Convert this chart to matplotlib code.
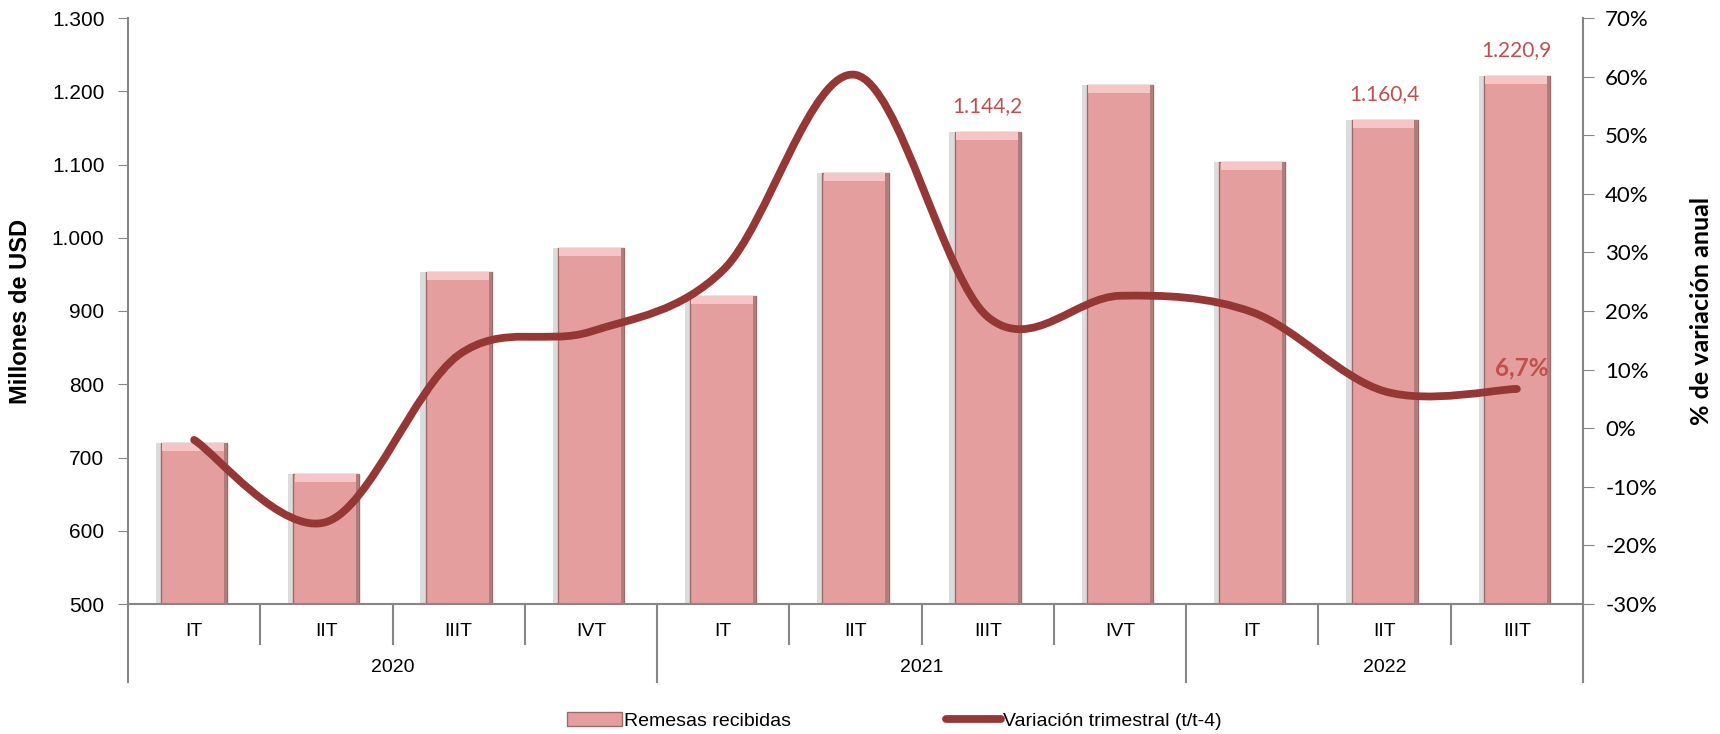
import matplotlib
matplotlib.use("Agg")
import matplotlib.pyplot as plt
import matplotlib.font_manager as fm
from matplotlib.path import Path
from matplotlib.patches import PathPatch, Patch
from matplotlib.lines import Line2D
from matplotlib.ticker import FuncFormatter
import matplotlib.transforms as mtransforms

# %%
# datos
years = ["2020", "2021", "2022"]
quarters = ["IT", "IIT", "IIIT", "IVT", "IT", "IIT", "IIIT", "IVT", "IT", "IIT", "IIIT"]
remesas = [720, 677, 953, 986, 921, 1088, 1144.2, 1208, 1103, 1160.4, 1220.9]
variacion = [-2.0, -16.0, 12.5, 16.5, 27.0, 60.3, 19.0, 22.6, 19.8, 6.3, 6.7]
labeled_bars = {6: "1.144,2", 9: "1.160,4", 10: "1.220,9"}
last_label = "6,7%"

names = {f.name for f in fm.fontManager.ttflist}
narrow = "Liberation Sans Narrow" if "Liberation Sans Narrow" in names else "Liberation Sans"
calibri = "Lato"

AXIS_C = "#868686"
BAR_C = "#E59E9E"
LINE_C = "#953735"
LABEL_C = "#C0504D"


def smooth_path(xs, ys):
    # bezier tipo Excel (catmull-rom) entre los puntos
    n = len(xs)
    verts = [(xs[0], ys[0])]
    codes = [Path.MOVETO]
    for i in range(n - 1):
        x0, y0 = (xs[i - 1], ys[i - 1]) if i > 0 else (xs[i], ys[i])
        x3, y3 = (xs[i + 2], ys[i + 2]) if i + 2 < n else (xs[i + 1], ys[i + 1])
        c1 = (xs[i] + (xs[i + 1] - x0) / 6, ys[i] + (ys[i + 1] - y0) / 6)
        c2 = (xs[i + 1] - (x3 - xs[i]) / 6, ys[i + 1] - (y3 - ys[i]) / 6)
        verts += [c1, c2, (xs[i + 1], ys[i + 1])]
        codes += [Path.CURVE4] * 3
    return Path(verts, codes)


# %%
fig = plt.figure(figsize=(17.2, 7.34), dpi=100)
ax = fig.add_axes([128 / 1720, 1 - 604 / 734, (1583 - 128) / 1720, (604 - 18) / 734])
ax2 = ax.twinx()

x = list(range(len(quarters)))
w = 0.5

# sombra, barra y bisel superior
ax.bar([i - 0.02 for i in x], remesas, width=w + 0.04, color="#DCDCDC", zorder=1)
ax.bar(x, remesas, width=w, color=BAR_C, edgecolor="#9B6B6B", linewidth=1.0, zorder=2)
ax.bar(x, [11] * len(x), bottom=[v - 11 for v in remesas], width=w - 0.02,
       color="#F4C6C6", linewidth=0, zorder=3)
ax.bar([i + w / 2 - 0.012 for i in x], remesas, width=0.024, color="#B07D7D",
       linewidth=0, zorder=3)

for i, txt in labeled_bars.items():
    ax.annotate(txt, (i, remesas[i]), xytext=(0, 26), textcoords="offset pixels",
                ha="center", va="center", color=LABEL_C, fontsize=15, family=calibri)

ax.set_xlim(-0.5, len(x) - 0.5)
ax.set_ylim(500, 1300)
ax.set_yticks(range(500, 1301, 100))
ax.yaxis.set_major_formatter(FuncFormatter(lambda v, p: f"{v:,.0f}".replace(",", ".")))
ax.set_xticks([])
ax.tick_params(axis="y", direction="out", length=7, color=AXIS_C, labelsize=15, pad=10)
for lab in ax.get_yticklabels():
    lab.set_family("Liberation Sans")
ax.set_ylabel("Millones de USD", fontsize=17, fontweight="bold", family=narrow, labelpad=14)

for s in ["top", "right"]:
    ax.spines[s].set_visible(False)
for s in ["left", "bottom"]:
    ax.spines[s].set_color(AXIS_C)
    ax.spines[s].set_linewidth(1.5)

# linea suavizada
ax2.add_patch(PathPatch(smooth_path(x, variacion), facecolor="none", edgecolor=LINE_C,
                        linewidth=5.6, capstyle="round", joinstyle="round", zorder=5))
ax2.annotate(last_label, (x[-1], variacion[-1]), xytext=(5, 21), textcoords="offset pixels",
             ha="center", va="center", color=LABEL_C, fontsize=17.5, fontweight="bold",
             family=calibri)
ax2.set_ylim(-30, 70)
ax2.set_yticks(range(-30, 71, 10))
ax2.yaxis.set_major_formatter(FuncFormatter(lambda v, p: f"{v:.0f}%"))
ax2.tick_params(axis="y", direction="out", length=8, color=AXIS_C, labelsize=16, pad=8)
for lab in ax2.get_yticklabels():
    lab.set_family(calibri)
ax2.set_ylabel("% de variación anual", fontsize=18, fontweight="bold", family=calibri,
               labelpad=24)
for s in ["top", "left", "bottom"]:
    ax2.spines[s].set_visible(False)
ax2.spines["right"].set_color(AXIS_C)
ax2.spines["right"].set_linewidth(1.5)

# eje de categorias en dos niveles
trans = mtransforms.blended_transform_factory(ax.transData, ax.transAxes)
h_in = 40 / 586
h_out = 78 / 586
year_edges = [-0.5, 3.5, 7.5, len(x) - 0.5]
for b in [i - 0.5 for i in range(len(x) + 1)]:
    h = h_out if b in year_edges else h_in
    ax.plot([b, b], [0, -h], transform=trans, color=AXIS_C, lw=1.5, clip_on=False)
for i, q in enumerate(quarters):
    ax.text(i, -27 / 586, q, transform=trans, ha="center", va="center", fontsize=14,
            family=narrow)
for k, yr in enumerate(years):
    mid = (year_edges[k] + year_edges[k + 1]) / 2
    ax.text(mid, -64 / 586, yr, transform=trans, ha="center", va="center", fontsize=14,
            family=narrow)

handles = [Patch(facecolor=BAR_C, edgecolor="#9B6B6B", linewidth=1.0),
           Line2D([0], [0], color=LINE_C, lw=5.6, solid_capstyle="round")]
fig.legend(handles, ["Remesas recibidas", "Variación trimestral (t/t-4)"],
           loc="center", bbox_to_anchor=(0.52, 0.018), ncol=2, frameon=False,
           prop={"family": narrow, "size": 14}, handlelength=2.8, handleheight=0.7,
           handletextpad=0.1, columnspacing=8.0)

fig.savefig("out.png", dpi=100)
